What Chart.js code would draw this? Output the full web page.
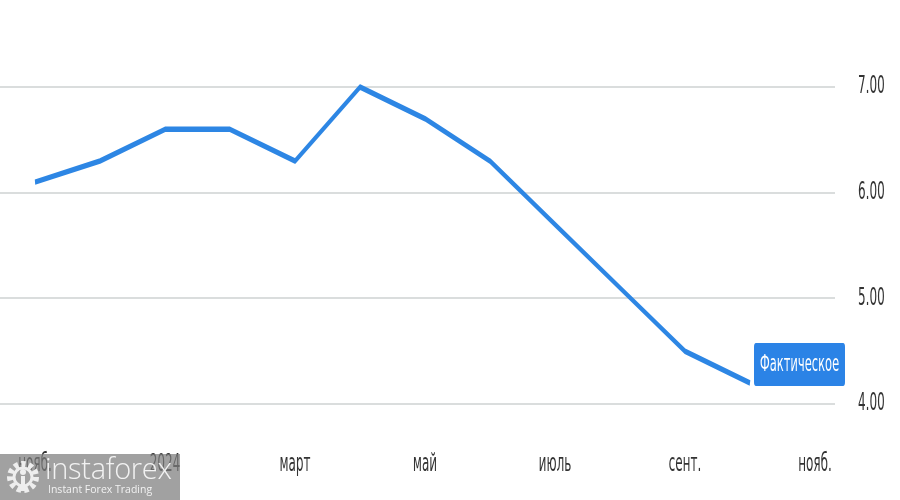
<!DOCTYPE html>
<html>
<head>
<meta charset="utf-8">
<script src="https://cdn.jsdelivr.net/npm/chart.js@4.4.1/dist/chart.umd.min.js"></script>
<style>
html,body{margin:0;padding:0;width:900px;height:500px;overflow:hidden;background:#fff;}
#wrap{position:absolute;left:0;top:0;width:1800px;height:500px;transform:scaleX(0.5);transform-origin:0 0;}
#c{display:block;width:1800px;height:500px;}
#wm{position:absolute;left:0;top:454px;width:180px;height:46px;background:rgba(125,125,125,0.72);color:#f2f2f2;font-family:"Open Sans","Liberation Sans",sans-serif;}
#wm svg{position:absolute;left:4px;top:5px;}
#wm .t1{position:absolute;left:45px;top:-4px;font-size:29px;font-weight:300;letter-spacing:-0.3px;line-height:36px;}
#wm .t2{position:absolute;left:48px;top:29px;font-size:10.5px;line-height:13px;}
</style>
</head>
<body>
<div id="wrap"><canvas id="c" width="1800" height="500"></canvas></div>
<div id="wm">
  <svg width="38" height="36" viewBox="0 0 38 36">
    <circle cx="19" cy="18" r="13" fill="none" stroke="#eee" stroke-width="6" stroke-dasharray="4.2 3.2"/>
    <circle cx="19" cy="18" r="9" fill="none" stroke="#eee" stroke-width="3"/>
    <circle cx="19" cy="13" r="3" fill="#eee"/>
    <rect x="17" y="17" width="4" height="15" fill="#eee"/>
  </svg>
  <div class="t1">instaforex</div>
  <div class="t2">Instant Forex Trading</div>
</div>
<script>
// Month labels (Nov 2023 – Nov 2024), every second one is shown on the axis
const monthLabels = ['нояб.','дек.','2024','февр.','март','апр.','май','июнь','июль','авг.','сент.','окт.','нояб.'];
// Actual values (Nov 2023 – Oct 2024)
const actualValues = [6.1, 6.3, 6.6, 6.6, 6.3, 7.0, 6.7, 6.3, 5.7, 5.1, 4.5, 4.2];
// Month indexes that carry an axis label
const xTickIndexes = [0, 2, 4, 6, 8, 10, 12];
const yTickValues = [4, 5, 6, 7];
const seriesTag = 'Фактическое';

const lineColor = '#2d86e4';
const tickFont = {family: '"DejaVu Sans", "Liberation Sans", sans-serif', size: 24};

const tagPlugin = {
  id: 'tag',
  afterDatasetsDraw(chart) {
    const meta = chart.getDatasetMeta(0);
    const last = meta.data[meta.data.length - 1];
    const ctx = chart.ctx;
    const w = 182, h = 43;
    const x = last.x + 8, y = last.y + 3 - h;
    ctx.save();
    ctx.fillStyle = '#2b83e6';
    ctx.beginPath();
    ctx.roundRect(x, y, w, h, 4);
    ctx.fill();
    ctx.fillStyle = '#ffffff';
    ctx.font = '23px "DejaVu Sans", "Liberation Sans", sans-serif';
    ctx.textAlign = 'center';
    ctx.textBaseline = 'middle';
    ctx.fillText(seriesTag, x + w / 2, y + h / 2 + 1);
    ctx.restore();
  }
};

const noEdgePadding = axis => {
  axis.paddingTop = 0; axis.paddingBottom = 0;
  axis.paddingLeft = 0; axis.paddingRight = 0;
};

new Chart(document.getElementById('c'), {
  type: 'line',
  data: {
    datasets: [{
      label: seriesTag,
      data: actualValues.map((v, i) => ({x: i, y: v})),
      borderColor: lineColor,
      borderWidth: 5.5,
      pointRadius: 0,
      tension: 0,
      fill: false,
      borderJoinStyle: 'round'
    }]
  },
  options: {
    responsive: false,
    animation: false,
    devicePixelRatio: 1,
    layout: {padding: {left: 0, right: 28, top: 20, bottom: 0}},
    plugins: {legend: {display: false}, tooltip: {enabled: false}},
    scales: {
      x: {
        type: 'linear',
        bounds: 'data',
        min: -0.5385,
        max: 12.3077,
        grid: {display: false, drawTicks: false},
        border: {display: false},
        afterBuildTicks: axis => { axis.ticks = xTickIndexes.map(v => ({value: v})); },
        afterFit: noEdgePadding,
        ticks: {
          autoSkip: false,
          maxRotation: 0,
          padding: 21,
          color: '#333333',
          font: tickFont,
          callback: v => monthLabels[Math.round(v)] ?? ''
        }
      },
      y: {
        position: 'right',
        bounds: 'data',
        min: 3.763,
        max: 7.634,
        grid: {color: '#dadddd', lineWidth: 2, drawTicks: false},
        border: {display: false},
        afterBuildTicks: axis => { axis.ticks = yTickValues.map(v => ({value: v})); },
        afterFit: axis => { noEdgePadding(axis); axis.width = 102; },
        ticks: {
          padding: 46,
          color: '#333333',
          font: tickFont,
          callback: v => Number(v).toFixed(2)
        }
      }
    }
  },
  plugins: [tagPlugin]
});
</script>
</body>
</html>
